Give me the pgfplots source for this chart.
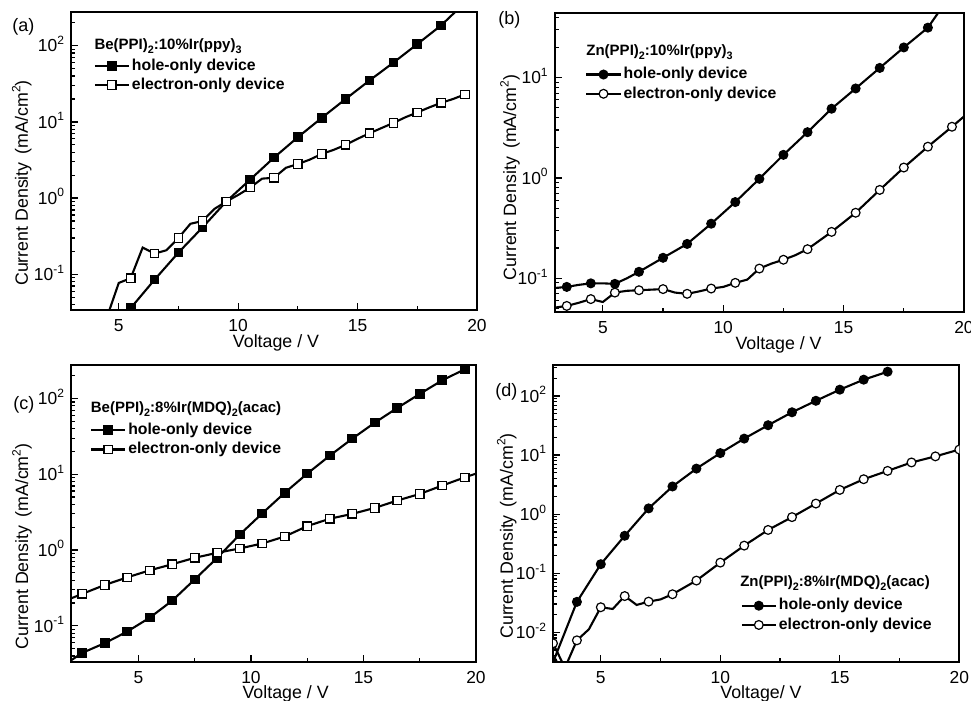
\documentclass[border=0pt]{standalone}
\usepackage{fontspec}
\setmainfont{Liberation Sans}
\usepackage{pgfplots}
\pgfplotsset{compat=1.18}
\newcommand\sups[1]{\raisebox{0.42em}{\fontsize{6}{6}\selectfont #1}}
\newcommand\subs[1]{\raisebox{-0.25em}{\fontsize{5.4}{6}\selectfont #1}}
\pgfplotsset{
  every axis/.append style={
    scale only axis, xmax=20,
    axis line style={line width=0.9pt},
    tick pos=left, tick align=inside,
    major tick length=3.5pt, minor tick length=2pt,
    tick style={line width=0.6pt, black},
    xtick={5,10,15,20}, minor x tick num=1,
    ytick={0.01,0.1,1,10,100},
    minor ytick={0.002,0.003,0.004,0.005,0.006,0.007,0.008,0.009,0.02,0.03,0.04,0.05,0.06,0.07,0.08,0.09,0.2,0.3,0.4,0.5,0.6,0.7,0.8,0.9,2,3,4,5,6,7,8,9,20,30,40,50,60,70,80,90,200,300,400,500,600,700,800,900},
    yticklabel={10\sups{\pgfmathparse{int(round(\tick/ln(10)))}\pgfmathresult}},
    /pgf/number format/assume math mode=true,
    tick label style={font=\fontsize{8.7}{10}\selectfont},
    xticklabel style={inner sep=0.8pt, yshift=-3.6pt},
    yticklabel style={anchor=base east, yshift=-3.1pt},
    ylabel={Current Density\hspace{0.45em}(mA/cm\sups{2})},
    label style={font=\fontsize{8.9}{10}\selectfont, inner sep=0pt},
    clip marker paths=true,
    legend style={draw=none, fill=none, inner sep=0pt, anchor=west,
      font=\bfseries\fontsize{7.9}{9}\selectfont,
      nodes={inner xsep=1pt, inner ysep=1.2pt}, row sep=0pt, cells={anchor=west}},
  },
}
\tikzset{
  pline/.style={black, line width=1.05pt},
  psqf/.style={mark=square*, mark size=2.1pt, mark options={draw=black, fill=black, line width=0.6pt}},
  psqo/.style={mark=square*, mark size=2.1pt, mark options={draw=black, fill=white, line width=0.6pt}},
  pcif/.style={mark=*, mark size=2.2pt, mark options={draw=black, fill=black, line width=0.6pt}},
  pcio/.style={mark=*, mark size=2.2pt, mark options={draw=black, fill=white, line width=0.6pt}},
  ptitle/.style={anchor=west, inner sep=0pt, font=\bfseries\fontsize{7.5}{8}\selectfont},
}
\begin{document}
\begin{tikzpicture}
\useasboundingbox (0,0) rectangle (485.5pt,350.5pt);
% ---------------- (a)
\begin{axis}[ymode=log, at={(35.5pt,195.5pt)}, anchor=south west, width=203pt, height=149pt,
  xmin=3, ymin=0.034, ymax=277,
  xlabel={Voltage / V},
  xlabel style={at={(axis description cs:0.505,-0.11)}, anchor=center},
  ylabel style={at={(axis description cs:-0.121,0.426)}, anchor=center},
  legend style={at={(axis description cs:0.055,0.787)}}]
\addplot[pline, mark=none, forget plot] table {
5.0 0.024
5.5 0.036
6.5 0.085
7.5 0.193
8.5 0.41
9.5 0.90
10.5 1.75
11.5 3.4
12.5 6.3
13.5 11.3
14.5 20
15.5 35
16.5 60
17.5 105
18.5 185
19.2 300
};
\addplot[only marks, psqf, forget plot] table {
5.5 0.036
6.5 0.085
7.5 0.193
8.5 0.41
9.5 0.90
10.5 1.75
11.5 3.4
12.5 6.3
13.5 11.3
14.5 20
15.5 35
16.5 60
17.5 105
18.5 185
};
\addplot[pline, mark=none, forget plot] table {
4.5 0.027
5.0 0.077
5.5 0.089
6.0 0.224
6.5 0.187
7.0 0.207
7.5 0.30
8.0 0.46
8.5 0.50
9.0 0.72
9.5 0.90
10.0 1.10
10.5 1.37
11.0 1.80
11.5 1.85
12.0 2.50
12.5 2.80
13.0 3.20
13.5 3.80
14.0 4.30
14.5 5.0
15.0 6.0
15.5 7.1
16.0 8.3
16.5 9.7
17.0 11.5
17.5 13.3
18.0 15.5
18.5 17.8
19.0 20.0
19.5 23.0
};
\addplot[only marks, psqo, forget plot] table {
5.5 0.089
6.5 0.187
7.5 0.30
8.5 0.50
9.5 0.90
10.5 1.37
11.5 1.85
12.5 2.80
13.5 3.80
14.5 5.0
15.5 7.1
16.5 9.7
17.5 13.3
18.5 17.8
19.5 23.0
};
\addlegendimage{pline, psqf}
\addlegendentry{hole-only device}
\addlegendimage{pline, psqo}
\addlegendentry{electron-only device}
\node[ptitle] at (axis description cs:0.057,0.886) {Be(PPI)\subs{2}:10\%Ir(ppy)\subs{3}};
\end{axis}
% ---------------- (b)
\begin{axis}[ymode=log, at={(277.35pt,194.35pt)}, anchor=south west, width=204.65pt, height=149.5pt,
  xmin=3, ymin=0.0458, ymax=43.8,
  xlabel={Voltage / V},
  xlabel style={at={(axis description cs:0.547,-0.109)}, anchor=center},
  ylabel style={at={(axis description cs:-0.109,0.45)}, anchor=center},
  legend style={at={(axis description cs:0.074,0.763)}}]
\addplot[pline, mark=none, forget plot] table {
3.0 0.080
3.5 0.082
4.0 0.086
4.5 0.089
5.0 0.089
5.5 0.088
6.0 0.100
6.5 0.116
7.5 0.16
8.5 0.22
9.5 0.35
10.5 0.575
11.5 0.98
12.5 1.7
13.5 2.86
14.5 4.9
15.5 7.8
16.5 12.5
17.5 20
18.5 31.5
19.2 55
};
\addplot[only marks, pcif, forget plot] table {
3.5 0.082
4.5 0.089
5.5 0.088
6.5 0.116
7.5 0.16
8.5 0.22
9.5 0.35
10.5 0.575
11.5 0.98
12.5 1.7
13.5 2.86
14.5 4.9
15.5 7.8
16.5 12.5
17.5 20
18.5 31.5
};
\addplot[pline, mark=none, forget plot] table {
3.0 0.051
3.5 0.053
4.0 0.057
4.5 0.062
5.0 0.058
5.5 0.072
6.0 0.075
6.5 0.076
7.5 0.078
8.0 0.072
8.5 0.070
9.0 0.074
9.5 0.079
10.0 0.082
10.5 0.090
11.0 0.097
11.5 0.125
12.0 0.140
12.5 0.153
13.0 0.170
13.5 0.195
14.5 0.29
15.5 0.45
16.5 0.76
17.5 1.27
18.5 2.05
19.5 3.24
20.0 4.1
};
\addplot[only marks, pcio, forget plot] table {
3.5 0.053
4.5 0.062
5.5 0.072
6.5 0.076
7.5 0.078
8.5 0.070
9.5 0.079
10.5 0.090
11.5 0.125
12.5 0.153
13.5 0.195
14.5 0.29
15.5 0.45
16.5 0.76
17.5 1.27
18.5 2.05
19.5 3.24
};
\addlegendimage{pline, pcif}
\addlegendentry{hole-only device}
\addlegendimage{pline, pcio}
\addlegendentry{electron-only device}
\node[ptitle] at (axis description cs:0.0765,0.871) {Zn(PPI)\subs{2}:10\%Ir(ppy)\subs{3}};
\end{axis}
% ---------------- (c)
\begin{axis}[ymode=log, at={(35.5pt,19.35pt)}, anchor=south west, width=202.5pt, height=148.65pt,
  xmin=2, ymin=0.033, ymax=277,
  xlabel={Voltage / V},
  xlabel style={at={(axis description cs:0.53,-0.107)}, anchor=center},
  ylabel style={at={(axis description cs:-0.121,0.39)}, anchor=center},
  legend style={at={(axis description cs:0.046,0.748)}}]
\addplot[pline, mark=none, forget plot] table {
2.0 0.035
2.5 0.044
3.5 0.059
4.5 0.084
5.5 0.128
6.5 0.215
7.5 0.41
8.5 0.79
9.5 1.6
10.5 3.05
11.5 5.7
12.5 10.2
13.5 17.6
14.5 29.5
15.5 48
16.5 75
17.5 115
18.5 174
19.5 243
};
\addplot[only marks, psqf, forget plot] table {
2.5 0.044
3.5 0.059
4.5 0.084
5.5 0.128
6.5 0.215
7.5 0.41
8.5 0.79
9.5 1.6
10.5 3.05
11.5 5.7
12.5 10.2
13.5 17.6
14.5 29.5
15.5 48
16.5 75
17.5 115
18.5 174
19.5 243
};
\addplot[pline, mark=none, forget plot] table {
2.0 0.23
2.5 0.264
3.5 0.346
4.5 0.436
5.5 0.54
6.5 0.65
7.5 0.79
8.5 0.92
9.5 1.05
10.5 1.22
11.5 1.51
12.5 2.07
13.5 2.59
14.5 3.0
15.5 3.6
16.5 4.5
17.5 5.5
18.5 7.1
19.5 9.1
20.0 10.2
};
\addplot[only marks, psqo, forget plot] table {
2.5 0.264
3.5 0.346
4.5 0.436
5.5 0.54
6.5 0.65
7.5 0.79
8.5 0.92
9.5 1.05
10.5 1.22
11.5 1.51
12.5 2.07
13.5 2.59
14.5 3.0
15.5 3.6
16.5 4.5
17.5 5.5
18.5 7.1
19.5 9.1
};
\addlegendimage{pline, psqf}
\addlegendentry{hole-only device}
\addlegendimage{pline, psqo}
\addlegendentry{electron-only device}
\node[ptitle] at (axis description cs:0.048,0.852) {Be(PPI)\subs{2}:8\%Ir(MDQ)\subs{2}(acac)};
\end{axis}
% ---------------- (d)
\begin{axis}[ymode=log, at={(276.5pt,19.35pt)}, anchor=south west, width=203.15pt, height=148.65pt,
  xmin=3, ymin=0.0031, ymax=335,
  xlabel={Voltage/ V},
  xlabel style={at={(axis description cs:0.512,-0.107)}, anchor=center},
  ylabel style={at={(axis description cs:-0.114,0.425)}, anchor=center},
  legend style={at={(axis description cs:0.461,0.158)}}]
\addplot[pline, mark=none, forget plot] table {
3.0 0.0031
4 0.0327
5 0.142
6 0.43
7 1.25
8 2.94
9 5.9
10 10.8
11 19
12 32
13 53
14 83
15 128
16 189
17 258
};
\addplot[only marks, pcif, forget plot] table {
3.0 0.0031
4 0.0327
5 0.142
6 0.43
7 1.25
8 2.94
9 5.9
10 10.8
11 19
12 32
13 53
14 83
15 128
16 189
17 258
};
\addplot[pline, mark=none, forget plot] table {
3.0 0.0065
3.5 0.0025
4.0 0.0073
4.5 0.0112
5.0 0.0265
5.5 0.0248
6.0 0.041
6.5 0.029
7.0 0.033
7.5 0.036
8.0 0.044
9.0 0.075
10.0 0.151
10.5 0.21
11.0 0.293
12.0 0.54
13.0 0.89
14.0 1.51
15.0 2.57
16.0 3.9
17.0 5.4
18.0 7.5
19.0 9.5
20.0 12.4
};
\addplot[only marks, pcio, forget plot] table {
3.0 0.0065
4.0 0.0073
5.0 0.0265
6.0 0.041
7.0 0.033
8.0 0.044
9.0 0.075
10.0 0.151
11.0 0.293
12.0 0.54
13.0 0.89
14.0 1.51
15.0 2.57
16.0 3.9
17.0 5.4
18.0 7.5
19.0 9.5
20.0 12.4
};
\addlegendimage{pline, pcif}
\addlegendentry{hole-only device}
\addlegendimage{pline, pcio}
\addlegendentry{electron-only device}
\node[ptitle] at (axis description cs:0.46,0.267) {Zn(PPI)\subs{2}:8\%Ir(MDQ)\subs{2}(acac)};
\end{axis}
% panel labels
\node[anchor=west, inner sep=0pt, font=\fontsize{9}{10}\selectfont] at (6pt,337pt) {(a)};
\node[anchor=west, inner sep=0pt, font=\fontsize{9}{10}\selectfont] at (249pt,340.5pt) {(b)};
\node[anchor=west, inner sep=0pt, font=\fontsize{9}{10}\selectfont] at (6.5pt,148pt) {(c)};
\node[anchor=west, inner sep=0pt, font=\fontsize{9}{10}\selectfont] at (247.5pt,154.65pt) {(d)};
\end{tikzpicture}
\end{document}
